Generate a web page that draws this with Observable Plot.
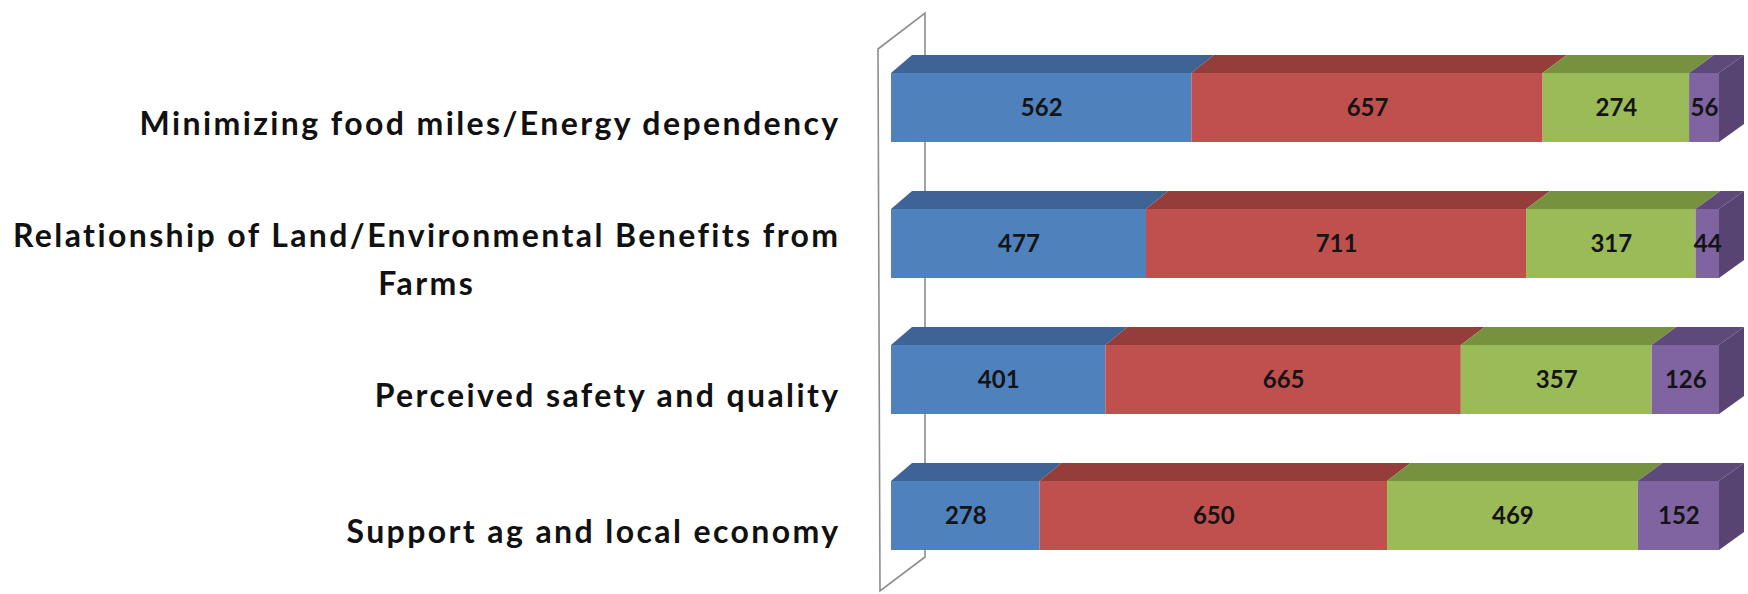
<!DOCTYPE html>
<html><head><meta charset="utf-8">
<script src="https://cdn.jsdelivr.net/npm/d3@7"></script>
<script src="https://cdn.jsdelivr.net/npm/@observablehq/plot@0.6"></script>
<style>
html,body{margin:0;padding:0;background:#fff}
.catlabels text{letter-spacing:2.4px}
</style>
</head><body><div id="chart"></div>
<script>
// ---- data ----
const categories = [
  "Minimizing food miles/Energy dependency",
  "Relationship of Land/Environmental Benefits from\nFarms",
  "Perceived safety and quality",
  "Support ag and local economy"
];
const seriesNames = ["Series 1", "Series 2", "Series 3", "Series 4"];
const series1 = [562, 477, 401, 278];
const series2 = [657, 711, 665, 650];
const series3 = [274, 317, 357, 469];
const series4 = [56, 44, 126, 152];
const frontColors = ["#4F81BD", "#C0504D", "#9BBB59", "#8064A2"];
const topColors = ["#3D6494", "#943D3A", "#77923F", "#5E4A7A"];
const sideColor = "#574472";

const allSeries = [series1, series2, series3, series4];
const rows = [];
categories.forEach((c, i) => allSeries.forEach((s, j) => rows.push({category: c, series: seriesNames[j], value: s[i]})));

// ---- 3-D styling (pixels) ----
const DX0 = 21, DX1 = 25, DY = 18;
const W = 1748, H = 594, ML = 891, MR = 29;
const dxAt = (px) => DX0 + (DX1 - DX0) * (px - ML) / (W - MR - ML);

const topFaceRender = (index, scales, values) => {
  const g = d3.create("svg:g");
  for (const i of index) {
    const x1 = values.x1[i], x2 = values.x2[i], y = values.y[i];
    const j = seriesNames.indexOf(rows[i].series);
    g.append("polygon")
      .attr("points", [[x1, y], [x2, y], [x2 + dxAt(x2), y - DY], [x1 + dxAt(x1), y - DY]].map(p => p.join(",")).join(" "))
      .attr("fill", topColors[j]);
    if (j === seriesNames.length - 1) {
      const bw = scales.y.bandwidth();
      const d = dxAt(x2);
      g.append("polygon")
        .attr("points", [[x2, y], [x2 + d, y - DY], [x2 + d, y + bw - DY], [x2, y + bw]].map(p => p.join(",")).join(" "))
        .attr("fill", sideColor);
    }
  }
  return g.node();
};

const wallMark = (index, scales) => {
  const y0 = scales.y(categories[0]);
  const y1 = scales.y(categories[categories.length - 1]) + scales.y.bandwidth();
  const xf = scales.x(0) - 13, xb = scales.x(0) + 34;
  return d3.create("svg:path")
    .attr("d", `M${xf},${y0 - 24}L${xb},${y0 - 60}L${xb},${y1 + 7}L${xf + 2},${y1 + 41}Z`)
    .attr("fill", "none").attr("stroke", "#8c8c8c").attr("stroke-width", 1.6)
    .node();
};

const plot = Plot.plot({
  width: W, height: H,
  marginLeft: ML, marginRight: MR, marginTop: 0, marginBottom: 0,
  x: {axis: null},
  y: {domain: categories, range: [71, 552], paddingInner: 0.489, paddingOuter: 0, axis: null},
  color: {domain: seriesNames, range: frontColors},
  style: {fontFamily: "Lato, sans-serif", background: "#fff"},
  marks: [
    wallMark,
    Plot.barX(rows, Plot.stackX({x: "value", y: "category", fill: "series", render: topFaceRender})),
    Plot.barX(rows, Plot.stackX({x: "value", y: "category", fill: "series"})),
    Plot.text(rows, Plot.stackX({x: "value", y: "category", text: d => String(d.value),
      fill: "#141414", fontSize: 24, fontWeight: "bold"})),
    Plot.text(categories, {y: d => d, text: d => d, frameAnchor: "left", textAnchor: "end",
      dx: -51, dy: 12, lineAnchor: "middle", lineHeight: 1.5, fontSize: 32, fontWeight: "bold",
      fill: "#111", className: "catlabels"})
  ]
});
document.getElementById("chart").appendChild(plot);

// center secondary lines of multi-line category labels under the first line
plot.querySelectorAll(".catlabels text").forEach(t => {
  const spans = t.querySelectorAll("tspan");
  if (spans.length > 1) {
    const w = spans[0].getComputedTextLength();
    for (let k = 1; k < spans.length; k++) {
      spans[k].setAttribute("x", -w / 2);
      spans[k].setAttribute("text-anchor", "middle");
    }
  }
});
</script>
</body></html>
